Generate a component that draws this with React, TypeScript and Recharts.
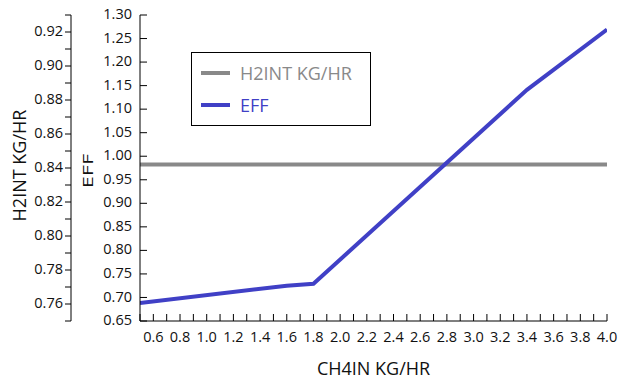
import React from "react";
import { Legend, Line, LineChart, XAxis, YAxis } from "recharts";

const CH4_IN = [0.5, 1.6, 1.8, 3.4, 4.0];
const H2_INT = [0.842, 0.842, 0.842, 0.842, 0.842];
const EFF = [0.688, 0.725, 0.729, 1.141, 1.269];

const SERIES_ORDER = ["H2INT KG/HR", "EFF"];

const X_TICKS = [
  0.5, 0.6, 0.7, 0.8, 0.9, 1.0, 1.1, 1.2, 1.3, 1.4, 1.5, 1.6, 1.7, 1.8, 1.9,
  2.0, 2.1, 2.2, 2.3, 2.4, 2.5, 2.6, 2.7, 2.8, 2.9, 3.0, 3.1, 3.2, 3.3, 3.4,
  3.5, 3.6, 3.7, 3.8, 3.9, 4.0,
];
const EFF_TICKS = [
  0.65, 0.7, 0.75, 0.8, 0.85, 0.9, 0.95, 1.0, 1.05, 1.1, 1.15, 1.2, 1.25, 1.3,
];
const H2_TICKS = [
  0.75, 0.76, 0.77, 0.78, 0.79, 0.8, 0.81, 0.82, 0.83, 0.84, 0.85, 0.86, 0.87,
  0.88, 0.89, 0.9, 0.91, 0.92, 0.93,
];

const GREY = "#898989";
const BLUE = "#4040c6";
const FONT = "'Open Sans', sans-serif";
const TICK_FONT = 14.5;
const TITLE_FONT = 18;

const data = CH4_IN.map((x, i) => ({ ch4: x, h2: H2_INT[i], eff: EFF[i] }));

function XTick(props: any) {
  const { x, y, payload } = props;
  const v = payload.value as number;
  const labelled = Math.round(v * 10) % 2 === 0 && v > 0.55;
  return (
    <g>
      <line x1={x} x2={x} y1={y} y2={y - 7} stroke="#000" />
      {labelled && (
        <text x={x} y={y + 21} textAnchor="middle" fontSize={TICK_FONT} fontFamily={FONT} fill="#111">
          {v.toFixed(1)}
        </text>
      )}
    </g>
  );
}

// ticks point into the plot, labels stay outside
function EffTick(props: any) {
  const { x, y, payload } = props;
  return (
    <g>
      <line x1={x} x2={x + 7} y1={y} y2={y} stroke="#000" />
      <text x={x - 8} y={y - 1} dy="0.35em" textAnchor="end" fontSize={TICK_FONT} fontFamily={FONT} fill="#111">
        {(payload.value as number).toFixed(2)}
      </text>
    </g>
  );
}

function H2Tick(props: any) {
  const { x, y, payload } = props;
  const v = payload.value as number;
  const labelled = Math.round(v * 100) % 2 === 0 && v > 0.755 && v < 0.925;
  return (
    <g>
      <line x1={x} x2={x - 6} y1={y} y2={y} stroke="#000" />
      {labelled && (
        <text x={x - 8} y={y - 1} dy="0.35em" textAnchor="end" fontSize={TICK_FONT} fontFamily={FONT} fill="#111">
          {v.toFixed(2)}
        </text>
      )}
    </g>
  );
}

function renderLegend(props: any) {
  const items = [...(props.payload || [])].sort(
    (a: any, b: any) => SERIES_ORDER.indexOf(a.value) - SERIES_ORDER.indexOf(b.value),
  );
  return (
    <div
      style={{
        border: "1px solid #000",
        width: 178,
        height: 72,
        background: "#fff",
        fontFamily: FONT,
        fontSize: TITLE_FONT,
      }}
    >
      <div style={{ paddingTop: 4 }}>
        {items.map((entry: any) => (
          <div
            key={entry.value}
            style={{ display: "flex", alignItems: "center", height: 32, paddingLeft: 9 }}
          >
            <div style={{ width: 29, height: 4, background: entry.color }} />
            <span style={{ marginLeft: 10, color: entry.color }}>{entry.value}</span>
          </div>
        ))}
      </div>
    </div>
  );
}

export default function App() {
  return (
    <div style={{ position: "absolute", left: 0, top: 0, background: "#fff" }}>
      <LineChart
        width={618}
        height={382}
        data={data}
        margin={{ top: 15, right: 11, bottom: 0, left: 0 }}
      >
        <XAxis
          dataKey="ch4"
          type="number"
          domain={[0.5, 4.0]}
          ticks={X_TICKS}
          interval={0}
          height={61}
          tickSize={0}
          tickMargin={0}
          tickLine={false}
          tick={(p: any) => <XTick {...p} />}
          axisLine={{ stroke: "#000" }}
          allowDataOverflow
          label={{
            content: ({ viewBox }: any) => (
              <text
                x={viewBox.x + viewBox.width / 2}
                y={viewBox.y + 54}
                textAnchor="middle"
                fontSize={TITLE_FONT}
                fontFamily={FONT}
                fill="#111"
              >
                CH4IN KG/HR
              </text>
            ),
          }}
        />
        <YAxis
          yAxisId="eff"
          orientation="left"
          domain={[0.65, 1.3]}
          ticks={EFF_TICKS}
          interval={0}
          width={69}
          tickSize={0}
          tickMargin={0}
          tickLine={false}
          tick={(p: any) => <EffTick {...p} />}
          axisLine={{ stroke: "#000" }}
          allowDataOverflow
          label={{
            content: ({ viewBox }: any) => {
              const cx = viewBox.x + 16;
              const cy = 171;
              // the original title is drawn wide, so stretch it along the text
              return (
                <text
                  transform={`translate(${cx} ${cy}) rotate(-90) scale(1.5 1)`}
                  textAnchor="middle"
                  dominantBaseline="central"
                  fontSize={14.5}
                  fontFamily={FONT}
                  fill="#111"
                >
                  EFF
                </text>
              );
            },
          }}
        />
        <YAxis
          yAxisId="h2"
          orientation="left"
          domain={[0.75, 0.93]}
          ticks={H2_TICKS}
          interval={0}
          width={71}
          tickSize={0}
          tickMargin={0}
          tickLine={false}
          tick={(p: any) => <H2Tick {...p} />}
          axisLine={{ stroke: "#000" }}
          allowDataOverflow
          label={{
            content: ({ viewBox }: any) => {
              const cx = viewBox.x + 19;
              const cy = 165.5;
              return (
                <text
                  x={cx}
                  y={cy}
                  transform={`rotate(-90 ${cx} ${cy})`}
                  textAnchor="middle"
                  dominantBaseline="central"
                  fontSize={TITLE_FONT}
                  fontFamily={FONT}
                  fill="#111"
                >
                  H2INT KG/HR
                </text>
              );
            },
          }}
        />
        <Legend
          layout="horizontal"
          verticalAlign="middle"
          align="center"
          content={renderLegend}
          wrapperStyle={{ left: 191, top: 52, width: 180, height: 74 }}
        />
        <Line
          yAxisId="h2"
          dataKey="h2"
          name="H2INT KG/HR"
          stroke={GREY}
          strokeWidth={4}
          dot={false}
          activeDot={false}
          isAnimationActive={false}
        />
        <Line
          yAxisId="eff"
          dataKey="eff"
          name="EFF"
          stroke={BLUE}
          strokeWidth={4}
          dot={false}
          activeDot={false}
          isAnimationActive={false}
        />
      </LineChart>
    </div>
  );
}
